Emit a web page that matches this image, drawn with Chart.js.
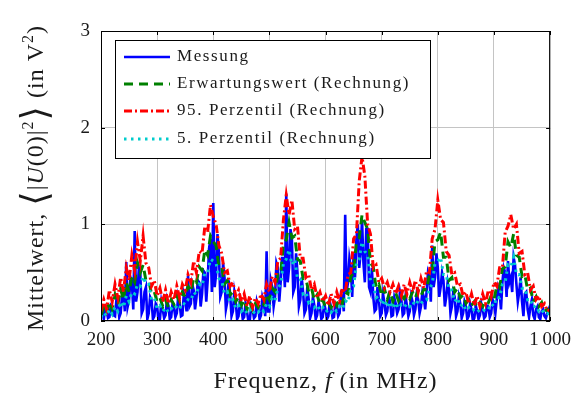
<!DOCTYPE html>
<html>
<head>
<meta charset="utf-8">
<script src="https://cdn.jsdelivr.net/npm/chart.js@4.4.1/dist/chart.umd.min.js"></script>
<style>
  html, body { margin: 0; padding: 0; background: #fff; }
</style>
</head>
<body>
<canvas id="chart" width="579" height="398"></canvas>
<script>
// measurement grid (2.5 MHz)
const freqMess = [
  200, 202.5, 205, 207.5, 210, 212.5, 215, 217.5, 220, 222.5, 225, 227.5, 230, 232.5, 235, 237.5, 240, 242.5, 245, 247.5,
  250, 252.5, 255, 257.5, 260, 262.5, 265, 267.5, 270, 272.5, 275, 277.5, 280, 282.5, 285, 287.5, 290, 292.5, 295, 297.5,
  300, 302.5, 305, 307.5, 310, 312.5, 315, 317.5, 320, 322.5, 325, 327.5, 330, 332.5, 335, 337.5, 340, 342.5, 345, 347.5,
  350, 352.5, 355, 357.5, 360, 362.5, 365, 367.5, 370, 372.5, 375, 377.5, 380, 382.5, 385, 387.5, 390, 392.5, 395, 397.5,
  400, 402.5, 405, 407.5, 410, 412.5, 415, 417.5, 420, 422.5, 425, 427.5, 430, 432.5, 435, 437.5, 440, 442.5, 445, 447.5,
  450, 452.5, 455, 457.5, 460, 462.5, 465, 467.5, 470, 472.5, 475, 477.5, 480, 482.5, 485, 487.5, 490, 492.5, 495, 497.5,
  500, 502.5, 505, 507.5, 510, 512.5, 515, 517.5, 520, 522.5, 525, 527.5, 530, 532.5, 535, 537.5, 540, 542.5, 545, 547.5,
  550, 552.5, 555, 557.5, 560, 562.5, 565, 567.5, 570, 572.5, 575, 577.5, 580, 582.5, 585, 587.5, 590, 592.5, 595, 597.5,
  600, 602.5, 605, 607.5, 610, 612.5, 615, 617.5, 620, 622.5, 625, 627.5, 630, 632.5, 635, 637.5, 640, 642.5, 645, 647.5,
  650, 652.5, 655, 657.5, 660, 662.5, 665, 667.5, 670, 672.5, 675, 677.5, 680, 682.5, 685, 687.5, 690, 692.5, 695, 697.5,
  700, 702.5, 705, 707.5, 710, 712.5, 715, 717.5, 720, 722.5, 725, 727.5, 730, 732.5, 735, 737.5, 740, 742.5, 745, 747.5,
  750, 752.5, 755, 757.5, 760, 762.5, 765, 767.5, 770, 772.5, 775, 777.5, 780, 782.5, 785, 787.5, 790, 792.5, 795, 797.5,
  800, 802.5, 805, 807.5, 810, 812.5, 815, 817.5, 820, 822.5, 825, 827.5, 830, 832.5, 835, 837.5, 840, 842.5, 845, 847.5,
  850, 852.5, 855, 857.5, 860, 862.5, 865, 867.5, 870, 872.5, 875, 877.5, 880, 882.5, 885, 887.5, 890, 892.5, 895, 897.5,
  900, 902.5, 905, 907.5, 910, 912.5, 915, 917.5, 920, 922.5, 925, 927.5, 930, 932.5, 935, 937.5, 940, 942.5, 945, 947.5,
  950, 952.5, 955, 957.5, 960, 962.5, 965, 967.5, 970, 972.5, 975, 977.5, 980, 982.5, 985, 987.5, 990, 992.5, 995, 997.5,
  1000
];

const messung = [
  0.05, 0.10, 0.02, 0.12, 0.10, 0.03, 0.04, 0.16, 0.14, 0.06, 0.05, 0.22, 0.20, 0.04, 0.08, 0.26, 0.28, 0.10, 0.61, 0.15,
  0.22, 0.45, 0.40, 0.12, 0.93, 0.20, 0.30, 0.55, 0.50, 0.08, 0.12, 0.30, 0.35, 0.02, 0.08, 0.25, 0.22, 0.02, 0.05, 0.18,
  0.15, 0.00, 0.02, 0.20, 0.12, 0.03, 0.06, 0.22, 0.16, 0.02, 0.04, 0.18, 0.14, 0.04, 0.08, 0.25, 0.18, 0.05, 0.06, 0.28,
  0.22, 0.10, 0.47, 0.15, 0.18, 0.38, 0.32, 0.12, 0.24, 0.42, 0.40, 0.15, 0.28, 0.52, 0.50, 0.20, 0.42, 0.75, 0.85, 0.30,
  1.22, 0.35, 0.48, 0.90, 0.70, 0.25, 0.30, 0.60, 0.45, 0.12, 0.20, 0.42, 0.28, 0.05, 0.10, 0.30, 0.20, 0.02, 0.05, 0.22,
  0.15, 0.02, 0.04, 0.18, 0.10, 0.00, 0.00, 0.16, 0.12, 0.03, 0.05, 0.20, 0.14, 0.02, 0.06, 0.25, 0.20, 0.05, 0.72, 0.10,
  0.10, 0.42, 0.35, 0.15, 0.25, 0.60, 0.55, 0.20, 0.40, 0.65, 0.65, 0.35, 1.32, 0.40, 0.55, 0.95, 0.85, 0.30, 0.35, 0.70,
  0.50, 0.15, 0.22, 0.45, 0.30, 0.08, 0.12, 0.35, 0.22, 0.03, 0.08, 0.25, 0.16, 0.02, 0.06, 0.20, 0.14, 0.02, 0.04, 0.18,
  0.12, 0.02, 0.05, 0.20, 0.14, 0.03, 0.04, 0.18, 0.15, 0.05, 0.08, 0.28, 0.25, 0.10, 1.10, 0.30, 0.40, 0.65, 0.55, 0.25,
  0.70, 0.45, 0.85, 1.00, 0.55, 0.70, 1.05, 0.60, 0.40, 0.95, 0.95, 0.35, 0.30, 0.55, 0.25, 0.10, 0.12, 0.35, 0.22, 0.05,
  0.08, 0.28, 0.18, 0.06, 0.10, 0.25, 0.20, 0.05, 0.06, 0.24, 0.18, 0.08, 0.12, 0.30, 0.22, 0.06, 0.08, 0.25, 0.16, 0.05,
  0.10, 0.26, 0.20, 0.06, 0.12, 0.28, 0.22, 0.08, 0.15, 0.30, 0.25, 0.12, 0.30, 0.50, 0.45, 0.20, 0.78, 0.35, 0.45, 0.70,
  0.55, 0.25, 0.35, 0.50, 0.42, 0.15, 0.25, 0.40, 0.32, 0.08, 0.15, 0.30, 0.25, 0.05, 0.10, 0.25, 0.18, 0.03, 0.08, 0.20,
  0.15, 0.02, 0.05, 0.18, 0.12, 0.00, 0.03, 0.16, 0.10, 0.02, 0.06, 0.18, 0.12, 0.03, 0.05, 0.16, 0.15, 0.04, 0.08, 0.22,
  0.18, 0.08, 0.22, 0.35, 0.30, 0.12, 0.40, 0.55, 0.50, 0.25, 0.62, 0.40, 0.45, 0.30, 0.66, 0.58, 0.38, 0.20, 0.30, 0.45,
  0.20, 0.05, 0.28, 0.30, 0.12, 0.04, 0.15, 0.22, 0.06, 0.02, 0.12, 0.15, 0.04, 0.02, 0.10, 0.12, 0.05, 0.03, 0.08, 0.12,
  0.06
];

// simulation grid (5 MHz)
const freqSim = [
  200, 205, 210, 215, 220, 225, 230, 235, 240, 245,
  250, 255, 260, 265, 270, 275, 280, 285, 290, 295,
  300, 305, 310, 315, 320, 325, 330, 335, 340, 345,
  350, 355, 360, 365, 370, 375, 380, 385, 390, 395,
  400, 405, 410, 415, 420, 425, 430, 435, 440, 445,
  450, 455, 460, 465, 470, 475, 480, 485, 490, 495,
  500, 505, 510, 515, 520, 525, 530, 535, 540, 545,
  550, 555, 560, 565, 570, 575, 580, 585, 590, 595,
  600, 605, 610, 615, 620, 625, 630, 635, 640, 645,
  650, 655, 660, 665, 670, 675, 680, 685, 690, 695,
  700, 705, 710, 715, 720, 725, 730, 735, 740, 745,
  750, 755, 760, 765, 770, 775, 780, 785, 790, 795,
  800, 805, 810, 815, 820, 825, 830, 835, 840, 845,
  850, 855, 860, 865, 870, 875, 880, 885, 890, 895,
  900, 905, 910, 915, 920, 925, 930, 935, 940, 945,
  950, 955, 960, 965, 970, 975, 980, 985, 990, 995,
  1000
];

const erwartung = [
  0.06, 0.14, 0.08, 0.20, 0.12, 0.27, 0.17, 0.33, 0.22, 0.40,
  0.30, 0.46, 0.40, 0.60, 0.50, 0.58, 0.42, 0.42, 0.28, 0.30,
  0.20, 0.24, 0.15, 0.22, 0.14, 0.22, 0.17, 0.26, 0.20, 0.30,
  0.25, 0.36, 0.30, 0.44, 0.40, 0.56, 0.52, 0.74, 0.68, 0.88,
  0.82, 0.78, 0.56, 0.56, 0.38, 0.42, 0.27, 0.30, 0.20, 0.25,
  0.16, 0.22, 0.12, 0.20, 0.11, 0.18, 0.14, 0.20, 0.17, 0.28,
  0.22, 0.34, 0.30, 0.48, 0.48, 0.80, 0.84, 1.02, 0.86, 0.88,
  0.64, 0.62, 0.44, 0.44, 0.30, 0.34, 0.22, 0.27, 0.17, 0.22,
  0.14, 0.19, 0.14, 0.21, 0.16, 0.23, 0.18, 0.30, 0.28, 0.46,
  0.50, 0.82, 0.86, 1.10, 1.02, 0.95, 0.60, 0.56, 0.34, 0.38,
  0.26, 0.33, 0.22, 0.31, 0.20, 0.29, 0.21, 0.27, 0.23, 0.28,
  0.23, 0.30, 0.24, 0.32, 0.26, 0.33, 0.32, 0.48, 0.52, 0.82,
  0.84, 0.92, 0.66, 0.66, 0.42, 0.45, 0.30, 0.34, 0.24, 0.27,
  0.18, 0.22, 0.16, 0.20, 0.14, 0.19, 0.15, 0.21, 0.19, 0.26,
  0.22, 0.36, 0.34, 0.54, 0.56, 0.82, 0.76, 0.90, 0.68, 0.66,
  0.46, 0.48, 0.32, 0.34, 0.20, 0.25, 0.15, 0.19, 0.10, 0.12,
  0.07
];

const perz95 = [
  0.10, 0.22, 0.12, 0.32, 0.20, 0.38, 0.24, 0.45, 0.30, 0.55,
  0.42, 0.68, 0.52, 0.82, 0.62, 0.88, 0.60, 0.55, 0.36, 0.42,
  0.26, 0.34, 0.20, 0.32, 0.18, 0.30, 0.22, 0.36, 0.24, 0.38,
  0.32, 0.48, 0.40, 0.62, 0.50, 0.72, 0.70, 0.98, 0.92, 1.20,
  1.08, 1.00, 0.78, 0.70, 0.50, 0.52, 0.36, 0.40, 0.26, 0.32,
  0.20, 0.28, 0.15, 0.26, 0.14, 0.24, 0.18, 0.28, 0.22, 0.38,
  0.30, 0.46, 0.40, 0.62, 0.65, 1.05, 1.30, 1.10, 1.25, 0.95,
  0.98, 0.65, 0.65, 0.45, 0.48, 0.32, 0.38, 0.24, 0.30, 0.20,
  0.26, 0.16, 0.28, 0.18, 0.30, 0.20, 0.34, 0.30, 0.48, 0.50,
  0.85, 0.90, 1.45, 1.70, 1.50, 1.00, 0.90, 0.55, 0.58, 0.40,
  0.44, 0.34, 0.40, 0.30, 0.38, 0.28, 0.36, 0.26, 0.38, 0.28,
  0.40, 0.30, 0.42, 0.30, 0.44, 0.34, 0.52, 0.50, 0.85, 0.95,
  1.25, 1.05, 1.02, 0.72, 0.68, 0.48, 0.50, 0.36, 0.38, 0.26,
  0.30, 0.18, 0.28, 0.16, 0.26, 0.15, 0.28, 0.18, 0.32, 0.25,
  0.40, 0.36, 0.55, 0.55, 0.92, 0.98, 1.10, 0.95, 1.00, 0.70,
  0.72, 0.48, 0.50, 0.32, 0.36, 0.22, 0.26, 0.15, 0.18, 0.10,
  0.12
];

const perz5 = [
  0.04, 0.09, 0.05, 0.12, 0.07, 0.15, 0.10, 0.20, 0.14, 0.26,
  0.20, 0.30, 0.28, 0.38, 0.36, 0.46, 0.38, 0.38, 0.22, 0.24,
  0.13, 0.16, 0.10, 0.14, 0.09, 0.13, 0.11, 0.16, 0.13, 0.19,
  0.17, 0.22, 0.21, 0.30, 0.27, 0.38, 0.36, 0.50, 0.50, 0.64,
  0.62, 0.60, 0.44, 0.42, 0.28, 0.30, 0.19, 0.22, 0.13, 0.16,
  0.10, 0.13, 0.08, 0.12, 0.07, 0.11, 0.09, 0.13, 0.10, 0.18,
  0.15, 0.24, 0.21, 0.34, 0.38, 0.60, 0.64, 0.74, 0.58, 0.64,
  0.44, 0.44, 0.28, 0.30, 0.19, 0.22, 0.14, 0.17, 0.11, 0.14,
  0.09, 0.12, 0.09, 0.13, 0.10, 0.15, 0.12, 0.21, 0.19, 0.34,
  0.36, 0.60, 0.64, 0.82, 0.72, 0.68, 0.42, 0.38, 0.24, 0.26,
  0.17, 0.22, 0.14, 0.20, 0.13, 0.19, 0.13, 0.17, 0.14, 0.18,
  0.15, 0.20, 0.16, 0.21, 0.18, 0.22, 0.22, 0.34, 0.38, 0.60,
  0.62, 0.66, 0.48, 0.48, 0.32, 0.32, 0.20, 0.24, 0.15, 0.18,
  0.11, 0.14, 0.10, 0.12, 0.09, 0.12, 0.10, 0.13, 0.12, 0.18,
  0.15, 0.25, 0.24, 0.38, 0.40, 0.58, 0.56, 0.66, 0.48, 0.48,
  0.34, 0.34, 0.22, 0.23, 0.14, 0.16, 0.10, 0.12, 0.07, 0.08,
  0.05
];

const xTicks = [200, 300, 400, 500, 600, 700, 800, 900, 1000];
const yTicks = [0, 1, 2, 3];

const seriesLabels = [
  "Messung",
  "Erwartungswert (Rechnung)",
  "95. Perzentil (Rechnung)",
  "5. Perzentil (Rechnung)"
];

const SERIF = "'Liberation Serif', 'DejaVu Serif', serif";

function toPoints(xs, ys) {
  return xs.map((f, i) => ({ x: f, y: ys[i] }));
}

// frame, inward tick marks, legend box and axis titles
const decorPlugin = {
  id: "decor",
  afterDatasetsDraw(chart) {
    const ctx = chart.ctx;
    const a = chart.chartArea;
    const xs = chart.scales.x, ys = chart.scales.y;
    ctx.save();
    ctx.strokeStyle = "#000";
    ctx.lineWidth = 1;
    ctx.strokeRect(a.left + 0.5, a.top + 0.5, a.right - a.left - 1, a.bottom - a.top - 1);
    ctx.beginPath();
    xTicks.forEach(v => {
      const px = Math.round(xs.getPixelForValue(v)) + 0.5;
      ctx.moveTo(px, a.bottom); ctx.lineTo(px, a.bottom - 4);
      ctx.moveTo(px, a.top); ctx.lineTo(px, a.top + 4);
    });
    yTicks.forEach(v => {
      const py = Math.round(ys.getPixelForValue(v)) + 0.5;
      ctx.moveTo(a.left, py); ctx.lineTo(a.left + 4, py);
      ctx.moveTo(a.right, py); ctx.lineTo(a.right - 4, py);
    });
    ctx.stroke();

    // legend
    const lx = 115, ly = 40, lw = 315, lh = 118;
    ctx.fillStyle = "#fff";
    ctx.fillRect(lx, ly, lw, lh);
    ctx.strokeRect(lx + 0.5, ly + 0.5, lw, lh);
    const rows = [57, 84, 111, 139];
    chart.data.datasets.forEach((ds, i) => {
      const y = rows[i];
      ctx.save();
      ctx.strokeStyle = ds.borderColor;
      ctx.lineWidth = ds.borderWidth;
      ctx.setLineDash(ds.borderDash || []);
      ctx.beginPath();
      ctx.moveTo(124, y); ctx.lineTo(170, y);
      ctx.stroke();
      ctx.restore();
      ctx.fillStyle = "#1a1a1a";
      ctx.font = "17px " + SERIF;
      ctx.letterSpacing = "1.6px";
      ctx.textBaseline = "middle";
      ctx.textAlign = "left";
      ctx.fillText(ds.label, 177, y);
    });
    ctx.restore();
  },
  afterDraw(chart) {
    const ctx = chart.ctx;
    const a = chart.chartArea;
    ctx.save();
    ctx.fillStyle = "#1a1a1a";
    ctx.textBaseline = "alphabetic";
    ctx.letterSpacing = "1px";
    const drawRun = (segs, cx, cy) => {
      let total = 0;
      segs.forEach(s => { ctx.font = s.f; total += ctx.measureText(s.t).width; });
      let x = cx - total / 2;
      segs.forEach(s => {
        ctx.font = s.f;
        ctx.fillText(s.t, x, cy + (s.dy || 0));
        x += ctx.measureText(s.t).width;
      });
    };
    const n = "24px " + SERIF, it = "italic 24px " + SERIF;
    const sup = "16px " + SERIF, big = "37px " + SERIF;
    drawRun([
      { t: "Frequenz, ", f: n },
      { t: "f", f: it },
      { t: " (in MHz)", f: n }
    ], (a.left + a.right) / 2, 388);

    ctx.translate(43, (a.top + a.bottom) / 2 + 2);
    ctx.rotate(-Math.PI / 2);
    drawRun([
      { t: "Mittelwert, ", f: n },
      { t: "\u27E8", f: big, dy: 4 },
      { t: "|", f: n },
      { t: "U", f: it },
      { t: "(0)|", f: n },
      { t: "2", f: sup, dy: -10 },
      { t: "\u27E9", f: big, dy: 4 },
      { t: " (in V", f: n },
      { t: "2", f: sup, dy: -10 },
      { t: ")", f: n }
    ], 0, 0);
    ctx.restore();
  }
};

new Chart(document.getElementById("chart"), {
  type: "line",
  data: {
    datasets: [
      {
        label: seriesLabels[0],
        data: toPoints(freqMess, messung),
        borderColor: "#0000ff",
        borderWidth: 2.6,
        order: 4
      },
      {
        label: seriesLabels[1],
        data: toPoints(freqSim, erwartung),
        borderColor: "#008000",
        borderWidth: 3,
        borderDash: [9, 6],
        order: 3
      },
      {
        label: seriesLabels[2],
        data: toPoints(freqSim, perz95),
        borderColor: "#ff0000",
        borderWidth: 3,
        borderDash: [8, 3, 2, 3],
        order: 2
      },
      {
        label: seriesLabels[3],
        data: toPoints(freqSim, perz5),
        borderColor: "#00cccc",
        borderWidth: 3,
        borderDash: [2.5, 4.5],
        order: 1
      }
    ]
  },
  options: {
    responsive: false,
    animation: false,
    devicePixelRatio: 1,
    layout: { padding: { top: 31, right: 25, bottom: 0, left: 0 } },
    elements: {
      point: { radius: 0 },
      line: { tension: 0, fill: false }
    },
    plugins: {
      legend: { display: false },
      tooltip: { enabled: false }
    },
    scales: {
      x: {
        type: "linear",
        min: 200,
        max: 1000,
        afterFit: s => { s.height = 77; },
        afterBuildTicks: s => { s.ticks = xTicks.map(v => ({ value: v })); },
        ticks: {
          color: "#1a1a1a",
          font: { family: SERIF, size: 19 },
          padding: 8,
          maxRotation: 0,
          callback: v => v === 1000 ? "1\u2009000" : String(v)
        },
        grid: { color: "#c4c4c4", lineWidth: 1, drawTicks: false },
        border: { display: false }
      },
      y: {
        min: 0,
        max: 3,
        afterFit: s => { s.width = 101; },
        afterBuildTicks: s => { s.ticks = yTicks.map(v => ({ value: v })); },
        ticks: {
          color: "#1a1a1a",
          font: { family: SERIF, size: 19 },
          padding: 11
        },
        grid: { color: "#c4c4c4", lineWidth: 1, drawTicks: false },
        border: { display: false }
      }
    }
  },
  plugins: [decorPlugin]
});
</script>
</body>
</html>
